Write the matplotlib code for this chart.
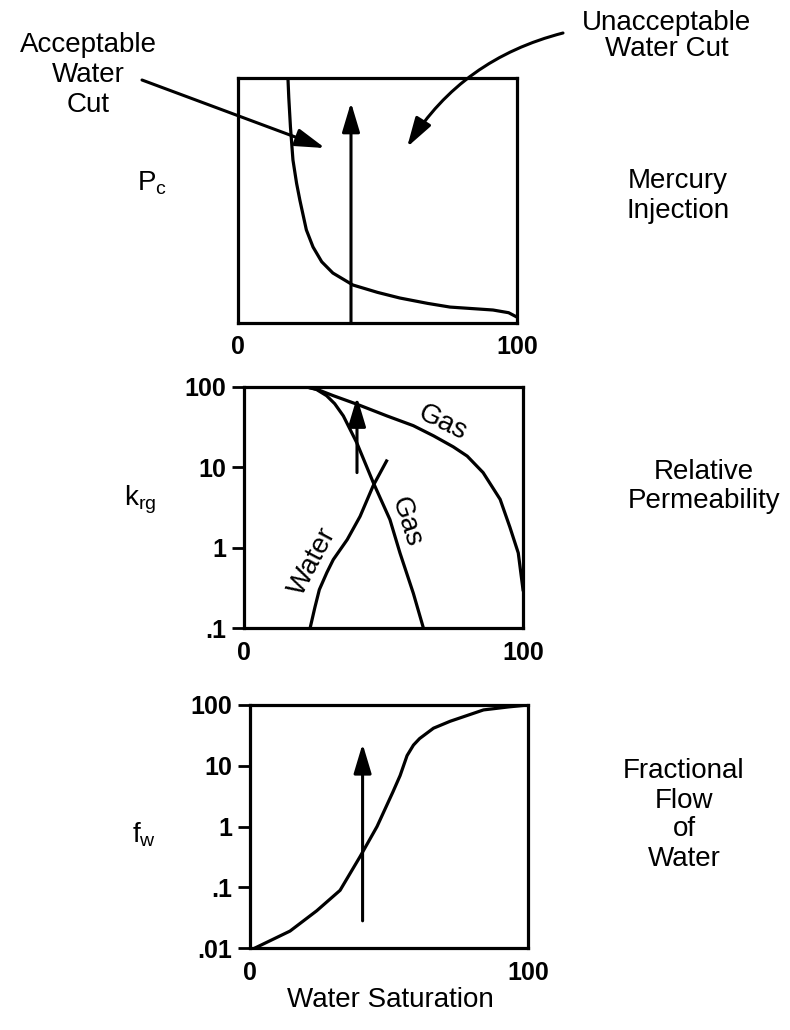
# Capillary pressure, relative permeability and fractional flow vs water saturation
import numpy as np
import matplotlib.pyplot as plt

plt.rcParams['font.family'] = ['Liberation Sans', 'DejaVu Sans']
plt.rcParams['mathtext.default'] = 'regular'

# mercury injection capillary pressure (relative units)
sw_pc = [17.9, 18.2, 18.8, 19.7, 21.0, 22.2, 24.5, 26.9, 30.0, 34.0, 41.2, 50.0, 58.0, 68.0, 76.0, 85.0, 91.4, 97.0, 100.0]
pc = [100, 92, 80, 66.5, 57, 50, 38, 31, 25, 20.4, 15.5, 12.5, 10.2, 8.0, 6.5, 5.8, 5.3, 4.2, 2.4]

# relative permeability
sw_gas_a = [20, 23, 26, 32, 40.5, 51.2, 60.7, 68, 75, 80, 85.7, 91.8, 95.3, 98.3, 100]
krg_gas_a = [100, 99, 94, 78, 61, 43.7, 33, 24.6, 18, 13.8, 8.6, 4.0, 1.8, 0.86, 0.3]

sw_gas_b = [20, 23, 26, 29.6, 32.5, 35.6, 40.4, 46.3, 52.3, 55.9, 60.7, 64.3]
krg_gas_b = [100, 99, 93, 78, 62, 43.7, 20.3, 6.5, 2.24, 0.86, 0.27, 0.1]

sw_water = [23.7, 25.4, 27.0, 29.7, 32.0, 37.0, 41.6, 46.3, 51.1]
krw_water = [0.1, 0.18, 0.3, 0.49, 0.71, 1.26, 2.45, 5.9, 12]

# fractional flow of water
sw_fw = [1.8, 14.4, 24.0, 32.4, 39.6, 45.7, 51.4, 54.0, 56.5, 58.8, 61.0, 66.0, 72.0, 84.0, 93.0, 100.0]
fw = [0.01, 0.019, 0.041, 0.089, 0.32, 1.0, 3.7, 6.9, 14.7, 21.9, 28, 41.5, 54, 83, 93, 100]

# cutoff saturation marked by the vertical arrows
sw_cut = 40.5

W, H = 790, 1030
fig = plt.figure(figsize=(W / 100, H / 100), dpi=100)


def panel(left, top, right, bottom):
    ax = fig.add_axes([left / W, 1 - bottom / H, (right - left) / W, (bottom - top) / H])
    for s in ax.spines.values():
        s.set_linewidth(2.3)
    ax.set_xlim(0, 100)
    ax.set_xticks([0, 100])
    ax.set_xticklabels(['0', '100'], fontweight='bold')
    ax.tick_params(axis='x', length=0, pad=9, labelsize=18)
    ax.tick_params(axis='y', length=9, width=2, pad=4, labelsize=18)
    ax.minorticks_off()
    return ax


def ftext(x, y, s, **kw):
    fig.text(x / W, 1 - y / H, s, ha='center', va='center', fontsize=20, **kw)


head = dict(arrowstyle='-|>,head_length=0.9,head_width=0.27', lw=2.2, color='k',
            mutation_scale=20, shrinkA=0, shrinkB=0)

# ---- panel 1: capillary pressure
ax1 = panel(238, 78, 517, 323)
ax1.plot(sw_pc, pc, color='k', lw=2.3)
ax1.set_ylim(0, 100)
ax1.set_yticks([])
ax1.annotate('', xy=(sw_cut, 90), xytext=(sw_cut, 0), arrowprops=head)

# ---- panel 2: relative permeability
ax2 = panel(244, 387, 523, 628)
ax2.set_yscale('log')
ax2.plot(sw_gas_a, krg_gas_a, color='k', lw=2.3)
ax2.plot(sw_gas_b, krg_gas_b, color='k', lw=2.3)
ax2.plot(sw_water, krw_water, color='k', lw=2.3)
ax2.set_ylim(0.1, 100)
ax2.set_yticks([0.1, 1, 10, 100])
ax2.set_yticklabels(['.1', '1', '10', '100'], fontweight='bold')
ax2.minorticks_off()
ax2.annotate('', xy=(sw_cut, 75), xytext=(sw_cut, 8.6), arrowprops=head)
ax2.text(71.3, 35.5, 'Gas', rotation=-26, ha='center', va='center', fontsize=20)
ax2.text(58, 2.1, 'Gas', rotation=-72, ha='center', va='center', fontsize=20)
ax2.text(24.8, 0.68, 'Water', rotation=62, ha='center', va='center', fontsize=20)

# ---- panel 3: fractional flow
ax3 = panel(250, 705, 528, 948)
ax3.set_yscale('log')
ax3.plot(sw_fw, fw, color='k', lw=2.3)
ax3.set_ylim(0.01, 100)
ax3.set_yticks([0.01, 0.1, 1, 10, 100])
ax3.set_yticklabels(['.01', '.1', '1', '10', '100'], fontweight='bold')
ax3.minorticks_off()
ax3.annotate('', xy=(sw_cut, 23), xytext=(sw_cut, 0.028), arrowprops=head)

# y labels on the left
ftext(152, 183, 'P$_c$')
ftext(140, 500, 'k$_{rg}$')
ftext(144, 835, 'f$_w$')

# descriptions on the right
ftext(678, 196, 'Mercury\nInjection', linespacing=1.15)
ftext(704, 486, 'Relative\nPermeability', linespacing=1.15)
ftext(684, 815, 'Fractional\nFlow\nof\nWater', linespacing=1.15)

ftext(390, 1000, 'Water Saturation')

# top annotations
ftext(88, 75, 'Acceptable\nWater\nCut', linespacing=1.2)
ftext(667, 36, 'Unacceptable\nWater Cut', linespacing=0.95)

ax1.annotate('', xy=(31.2, 71.4), xycoords='data',
             xytext=(142 / W, 1 - 80 / H), textcoords='figure fraction',
             arrowprops=head)
ax1.annotate('', xy=(60.6, 71.8), xycoords='data',
             xytext=(563 / W, 1 - 33 / H), textcoords='figure fraction',
             arrowprops=dict(head, connectionstyle='arc3,rad=0.2'))

fig.savefig('out.png', dpi=100)
